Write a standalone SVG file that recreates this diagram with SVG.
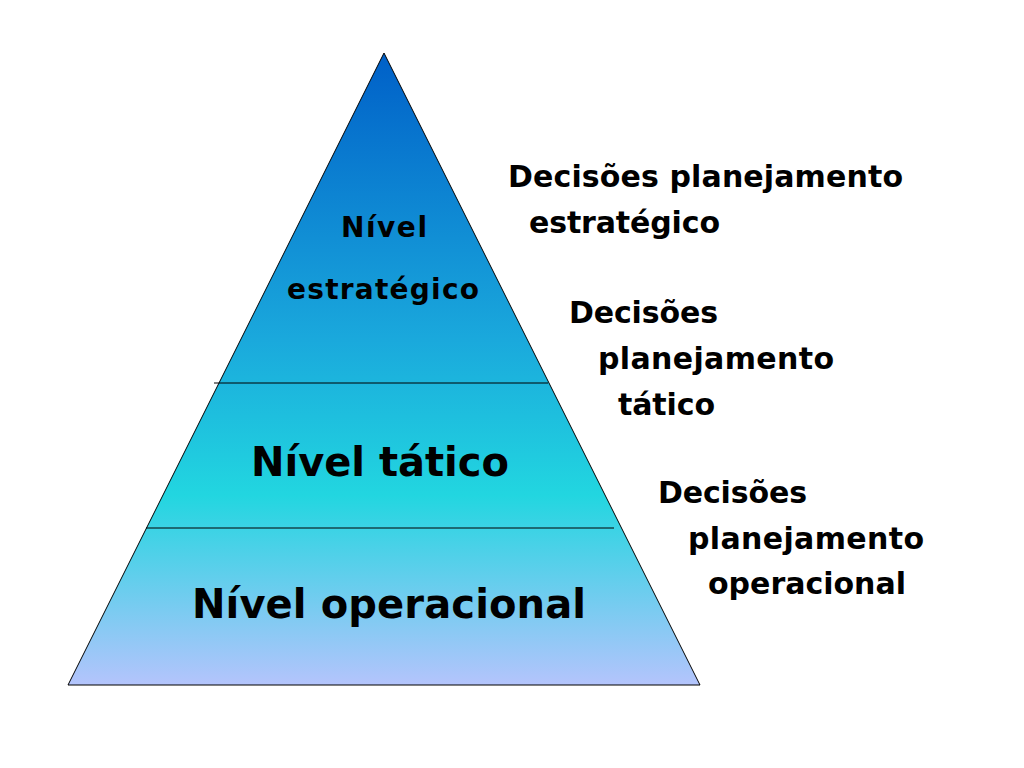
<svg xmlns="http://www.w3.org/2000/svg" width="1024" height="768" viewBox="0 0 1024 768">
<defs>
<linearGradient id="g" x1="0" y1="53" x2="0" y2="685" gradientUnits="userSpaceOnUse">
<stop offset="0" stop-color="#0060c8"/>
<stop offset="0.45" stop-color="#1aa8dc"/>
<stop offset="0.7" stop-color="#22d6e0"/>
<stop offset="1" stop-color="#b4c4fc"/>
</linearGradient>
<style>
text{font-family:"DejaVu Sans","Liberation Sans",sans-serif;font-weight:bold;fill:#000}
.s{font-size:28px}
.l{font-size:40px}
.r{font-size:30px}
</style>
</defs>
<rect width="1024" height="768" fill="#fff"/>
<g id="pyramid">
<polygon points="384,53 700,685 68,685" fill="url(#g)" stroke="#000" stroke-width="1"/>
</g>
<g id="connectors" stroke="#000" stroke-width="1">
<line x1="214" y1="383" x2="548" y2="383"/>
<line x1="146" y1="528" x2="614" y2="528"/>
</g>
<g id="level1"><text class="s" x="384" y="237" text-anchor="middle" textLength="86">Nível</text>
<text class="s" x="383" y="299" text-anchor="middle" textLength="192">estratégico</text></g>
<g id="level2"><text class="l" x="380" y="476" text-anchor="middle" textLength="258">Nível tático</text></g>
<g id="level3"><text class="l" x="389" y="618" text-anchor="middle" textLength="394">Nível operacional</text></g>
<g id="d1"><text class="r" x="508" y="187" textLength="395">Decisões planejamento</text>
<text class="r" x="529" y="233" textLength="191">estratégico</text></g>
<g id="d2"><text class="r" x="569" y="323" textLength="149">Decisões</text>
<text class="r" x="598" y="369" textLength="236">planejamento</text>
<text class="r" x="618" y="415" textLength="97">tático</text></g>
<g id="d3"><text class="r" x="658" y="503" textLength="149">Decisões</text>
<text class="r" x="688" y="549" textLength="236">planejamento</text>
<text class="r" x="708" y="594" textLength="198">operacional</text></g>
</svg>
